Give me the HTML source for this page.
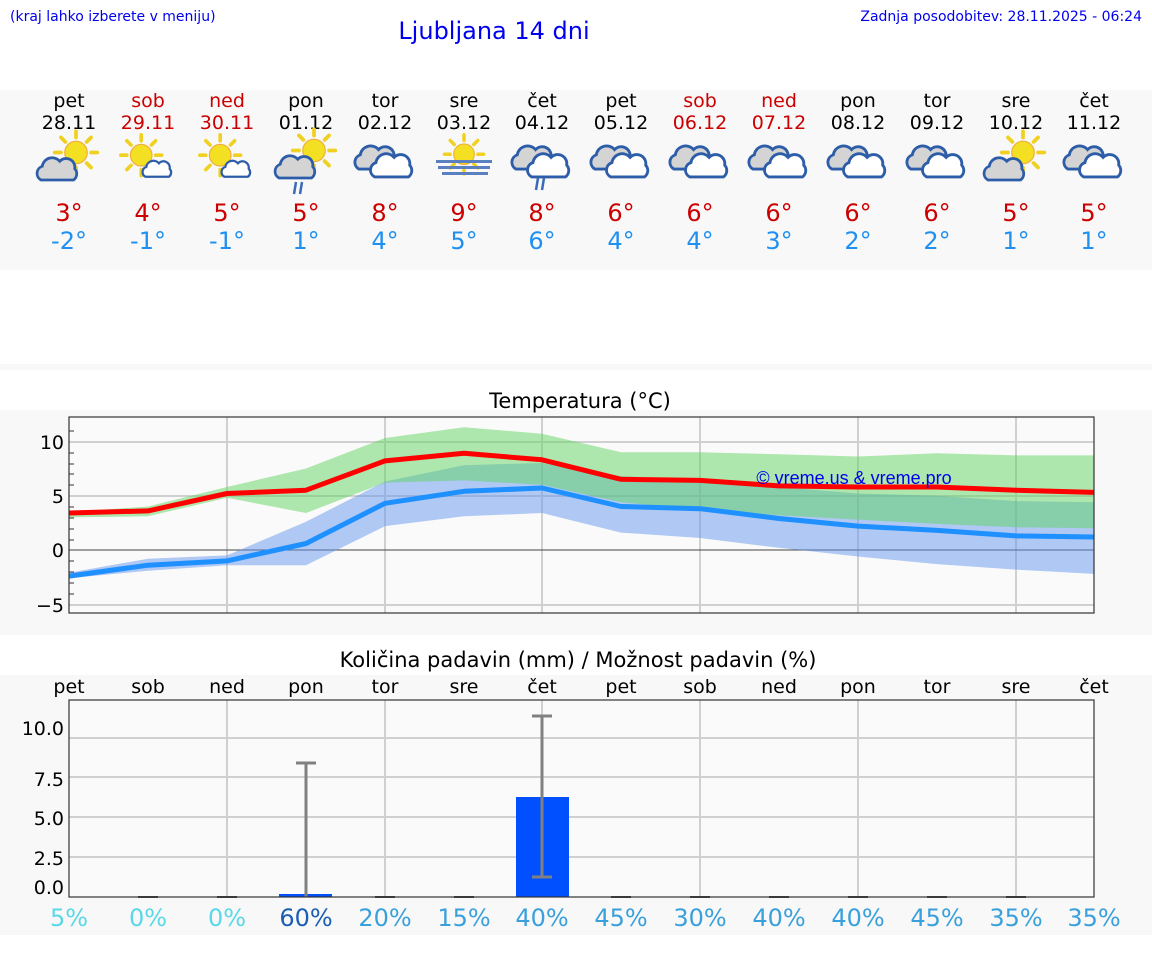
<!DOCTYPE html>
<html><head><meta charset="utf-8"><style>
html,body{margin:0;padding:0;background:#fff;}
svg{display:block;font-family:"DejaVu Sans","Liberation Sans",sans-serif;}
</style></head><body>
<svg width="1152" height="975" viewBox="0 0 1152 975" xmlns="http://www.w3.org/2000/svg">
<defs>
<g id="sun">
 <g stroke="#f0d020" stroke-width="3" stroke-linecap="round">
  <line x1="0" y1="-17" x2="0" y2="-12"/><line x1="0" y1="17" x2="0" y2="12"/>
  <line x1="-17" y1="0" x2="-12" y2="0"/><line x1="17" y1="0" x2="12" y2="0"/>
  <line x1="-12" y1="-12" x2="-8.5" y2="-8.5"/><line x1="12" y1="12" x2="8.5" y2="8.5"/>
  <line x1="-12" y1="12" x2="-8.5" y2="8.5"/><line x1="12" y1="-12" x2="8.5" y2="-8.5"/>
 </g>
 <circle r="9" fill="#f4e022" stroke="#f0b040" stroke-width="1"/>
</g>
<path id="cl" d="M-14,8 a6,6 0 0 1 1,-11 a8,8 0 0 1 14,-4 a7,7 0 0 1 12,6 a6,6 0 0 1 -1,9 z"/>
<g id="iSunCloud0"><use href="#sun" x="8" y="-6"/><use href="#cl" x="-6" y="8" fill="#d4d4d4" stroke="#2d5da8" stroke-width="2.2"/></g>
<g id="iSunSmall0"><use href="#sun" x="-4" y="-4"/><g transform="translate(10 8) scale(0.75)"><use href="#cl" fill="#fff" stroke="#2d5da8" stroke-width="2.5"/></g></g>
<g id="iCloudy0"><use href="#cl" x="-6" y="-1" fill="#d4d4d4" stroke="#2d5da8" stroke-width="2.2"/><use href="#cl" x="6" y="5" fill="#fff" stroke="#2d5da8" stroke-width="2.2"/></g>
<g id="iSunCloud" transform="scale(1.25)"><use href="#iSunCloud0"/></g>
<g id="iSunSmall" transform="scale(1.2)"><use href="#iSunSmall0"/></g>
<g id="iCloudy" transform="scale(1.3)"><use href="#iCloudy0"/></g>
<g id="rain" stroke="#3a6ab8" stroke-width="2.5"><line x1="-6" y1="20" x2="-8" y2="32"/><line x1="0" y1="20" x2="-2" y2="32"/></g>
<g id="iFog"><g transform="scale(1.15)"><use href="#sun" x="0" y="-5"/></g><g fill="#5a80c0"><rect x="-28" y="0" width="56" height="3"/><rect x="-26" y="6" width="52" height="3"/><rect x="-22" y="12" width="46" height="3"/></g></g>
</defs>

<text x="10" y="21" font-size="14" fill="#0000ee">(kraj lahko izberete v meniju)</text>
<text x="494" y="39" font-size="24" fill="#0000ee" text-anchor="middle">Ljubljana 14 dni</text>
<text x="1142" y="21" font-size="14" fill="#0000ee" text-anchor="end">Zadnja posodobitev: 28.11.2025 - 06:24</text>

<rect x="0" y="90" width="1152" height="180" fill="#f8f8f8"/>
<rect x="0" y="364" width="1152" height="6" fill="#f8f8f8"/>

<g font-size="19" text-anchor="middle">
<g fill="#000">
<text x="69" y="107">pet</text><text x="306" y="107">pon</text><text x="385" y="107">tor</text><text x="464" y="107">sre</text><text x="542" y="107">čet</text><text x="621" y="107">pet</text><text x="858" y="107">pon</text><text x="937" y="107">tor</text><text x="1016" y="107">sre</text><text x="1094" y="107">čet</text>
<text x="69" y="129">28.11</text><text x="306" y="129">01.12</text><text x="385" y="129">02.12</text><text x="464" y="129">03.12</text><text x="542" y="129">04.12</text><text x="621" y="129">05.12</text><text x="858" y="129">08.12</text><text x="937" y="129">09.12</text><text x="1016" y="129">10.12</text><text x="1094" y="129">11.12</text>
</g>
<g fill="#cc0000">
<text x="148" y="107">sob</text><text x="227" y="107">ned</text><text x="700" y="107">sob</text><text x="779" y="107">ned</text>
<text x="148" y="129">29.11</text><text x="227" y="129">30.11</text><text x="700" y="129">06.12</text><text x="779" y="129">07.12</text>
</g>
</g>

<use href="#iSunCloud" x="66" y="160"/>
<use href="#iSunSmall" x="146" y="160"/>
<use href="#iSunSmall" x="225" y="160"/>
<use href="#iSunCloud" x="304" y="158"/><use href="#rain" x="302" y="162"/>
<use href="#iCloudy" x="385" y="160"/>
<use href="#iFog" x="464" y="160"/>
<use href="#iCloudy" x="542" y="160"/><use href="#rain" x="544" y="158"/>
<use href="#iCloudy" x="621" y="160"/>
<use href="#iCloudy" x="700" y="160"/>
<use href="#iCloudy" x="779" y="160"/>
<use href="#iCloudy" x="858" y="160"/>
<use href="#iCloudy" x="937" y="160"/>
<use href="#iSunCloud" x="1013" y="160"/>
<use href="#iCloudy" x="1094" y="160"/>

<g font-size="24" text-anchor="middle" fill="#cc0000">
<text x="69" y="221">3°</text><text x="148" y="221">4°</text><text x="227" y="221">5°</text><text x="306" y="221">5°</text><text x="385" y="221">8°</text><text x="464" y="221">9°</text><text x="542" y="221">8°</text><text x="621" y="221">6°</text><text x="700" y="221">6°</text><text x="779" y="221">6°</text><text x="858" y="221">6°</text><text x="937" y="221">6°</text><text x="1016" y="221">5°</text><text x="1094" y="221">5°</text>
</g>
<g font-size="24" text-anchor="middle" fill="#2090f0">
<text x="69" y="249">-2°</text><text x="148" y="249">-1°</text><text x="227" y="249">-1°</text><text x="306" y="249">1°</text><text x="385" y="249">4°</text><text x="464" y="249">5°</text><text x="542" y="249">6°</text><text x="621" y="249">4°</text><text x="700" y="249">4°</text><text x="779" y="249">3°</text><text x="858" y="249">2°</text><text x="937" y="249">2°</text><text x="1016" y="249">1°</text><text x="1094" y="249">1°</text>
</g>

<rect x="0" y="410" width="1152" height="225" fill="#f8f8f8"/>
<text x="580" y="408" font-size="21" text-anchor="middle" fill="#000">Temperatura (°C)</text>
<rect x="69" y="417" width="1025" height="196" fill="#fafafa"/>
<g stroke="#d0d0d0" stroke-width="2">
<line x1="69" y1="442" x2="1094" y2="442"/><line x1="69" y1="496" x2="1094" y2="496"/><line x1="69" y1="605" x2="1094" y2="605"/>
<line x1="227" y1="417" x2="227" y2="613"/><line x1="385" y1="417" x2="385" y2="613"/><line x1="542" y1="417" x2="542" y2="613"/><line x1="700" y1="417" x2="700" y2="613"/><line x1="858" y1="417" x2="858" y2="613"/><line x1="1016" y1="417" x2="1016" y2="613"/>
</g>
<line x1="69" y1="550" x2="1094" y2="550" stroke="#444" stroke-width="1"/>
<polygon fill="#6495ed" fill-opacity="0.5" points="69,572.8 148,558.7 227,555.4 306,521.7 385,481.5 464,465.2 542,463 621,476.1 700,480.4 779,487 858,493.5 937,495.7 1016,501.1 1094,502.2 1094,573.9 1016,569.6 937,564.1 858,556.5 779,547.8 700,538 621,532.6 542,513 464,516.3 385,526.1 306,565.2 227,565.2 148,570.7 69,578.3"/>
<polygon fill="#5fd35f" fill-opacity="0.5" points="69,512 148,506.5 227,487 306,468.5 385,438 464,427.2 542,433.7 621,452.2 700,452.2 779,454.3 858,456.5 937,453.3 1016,455.4 1094,455.4 1094,528.3 1016,527.2 937,523.9 858,519.6 779,515.2 700,509.8 621,502.2 542,484.8 464,480.4 385,482.6 306,513 227,497.8 148,516.3 69,517.4"/>
<polyline fill="none" stroke="#ff0000" stroke-width="5" stroke-linejoin="round" points="69,513 148,510.9 227,493.5 306,490.2 385,460.9 464,453.3 542,459.8 621,479.3 700,480.4 779,485.9 858,487 937,487 1016,490.2 1094,492.4"/>
<polyline fill="none" stroke="#1e90ff" stroke-width="5" stroke-linejoin="round" points="69,576.1 148,565.2 227,560.9 306,543.5 385,503.3 464,491.3 542,488 621,506.5 700,508.7 779,518.5 858,526.1 937,530.4 1016,535.9 1094,537"/>
<text x="854" y="484" font-size="17" fill="#0000ee" text-anchor="middle" font-family="Liberation Sans, sans-serif" font-size-adjust="none" style="font-size:18px">© vreme.us &amp; vreme.pro</text>
<rect x="69" y="417" width="1025" height="196" fill="none" stroke="#333" stroke-width="1.2"/>
<g stroke="#333" stroke-width="1">
<line x1="69" y1="431" x2="74" y2="431"/><line x1="69" y1="453" x2="74" y2="453"/><line x1="69" y1="464" x2="74" y2="464"/><line x1="69" y1="474" x2="74" y2="474"/><line x1="69" y1="485" x2="74" y2="485"/><line x1="69" y1="507" x2="74" y2="507"/><line x1="69" y1="518" x2="74" y2="518"/><line x1="69" y1="529" x2="74" y2="529"/><line x1="69" y1="540" x2="74" y2="540"/><line x1="69" y1="561" x2="74" y2="561"/><line x1="69" y1="572" x2="74" y2="572"/><line x1="69" y1="583" x2="74" y2="583"/><line x1="69" y1="594" x2="74" y2="594"/>
</g>
<g font-size="19" fill="#000" text-anchor="end">
<text x="64" y="449">10</text><text x="64" y="503">5</text><text x="64" y="557">0</text><text x="64" y="612">−5</text>
</g>

<rect x="0" y="675" width="1152" height="260" fill="#f8f8f8"/>
<text x="578" y="667" font-size="21" text-anchor="middle" fill="#000">Količina padavin (mm) / Možnost padavin (%)</text>
<g font-size="19" text-anchor="middle" fill="#000">
<text x="69" y="693">pet</text><text x="148" y="693">sob</text><text x="227" y="693">ned</text><text x="306" y="693">pon</text><text x="385" y="693">tor</text><text x="464" y="693">sre</text><text x="542" y="693">čet</text><text x="621" y="693">pet</text><text x="700" y="693">sob</text><text x="779" y="693">ned</text><text x="858" y="693">pon</text><text x="937" y="693">tor</text><text x="1016" y="693">sre</text><text x="1094" y="693">čet</text>
</g>
<rect x="69" y="700" width="1025" height="197" fill="#fafafa"/>
<g stroke="#d0d0d0" stroke-width="2">
<line x1="69" y1="738" x2="1094" y2="738"/><line x1="69" y1="777" x2="1094" y2="777"/><line x1="69" y1="817" x2="1094" y2="817"/><line x1="69" y1="857" x2="1094" y2="857"/>
<line x1="227" y1="700" x2="227" y2="897"/><line x1="385" y1="700" x2="385" y2="897"/><line x1="542" y1="700" x2="542" y2="897"/><line x1="700" y1="700" x2="700" y2="897"/><line x1="858" y1="700" x2="858" y2="897"/><line x1="1016" y1="700" x2="1016" y2="897"/>
</g>
<rect x="279" y="894" width="53" height="3" fill="#0050ff"/>
<rect x="516" y="797" width="53" height="100" fill="#0050ff"/>
<g stroke="#808080" stroke-width="3">
<line x1="306" y1="763" x2="306" y2="897"/><line x1="296" y1="763" x2="316" y2="763"/>
<line x1="542" y1="716" x2="542" y2="877"/><line x1="532" y1="716" x2="552" y2="716"/><line x1="532" y1="877" x2="552" y2="877"/>
</g>
<g stroke="#444" stroke-width="2">
<line x1="138" y1="897" x2="158" y2="897"/><line x1="217" y1="897" x2="237" y2="897"/><line x1="375" y1="897" x2="395" y2="897"/><line x1="454" y1="897" x2="474" y2="897"/><line x1="611" y1="897" x2="631" y2="897"/><line x1="690" y1="897" x2="710" y2="897"/><line x1="769" y1="897" x2="789" y2="897"/><line x1="848" y1="897" x2="868" y2="897"/><line x1="927" y1="897" x2="947" y2="897"/><line x1="1006" y1="897" x2="1026" y2="897"/>
</g>
<rect x="69" y="700" width="1025" height="197" fill="none" stroke="#333" stroke-width="1.2"/>
<g font-size="19" fill="#000" text-anchor="end">
<text x="64" y="735">10.0</text><text x="64" y="786">7.5</text><text x="64" y="825">5.0</text><text x="64" y="865">2.5</text><text x="64" y="894">0.0</text>
</g>
<g font-size="24" text-anchor="middle">
<text x="69" y="926" fill="#5ad8e8">5%</text><text x="148" y="926" fill="#5ad8e8">0%</text><text x="227" y="926" fill="#5ad8e8">0%</text>
<text x="306" y="926" fill="#1a5fb4">60%</text>
<g fill="#3aa0dc">
<text x="385" y="926">20%</text><text x="464" y="926">15%</text><text x="542" y="926">40%</text><text x="621" y="926">45%</text><text x="700" y="926">30%</text><text x="779" y="926">40%</text><text x="858" y="926">40%</text><text x="937" y="926">45%</text><text x="1016" y="926">35%</text><text x="1094" y="926">35%</text>
</g>
</g>
</svg>
</body></html>
